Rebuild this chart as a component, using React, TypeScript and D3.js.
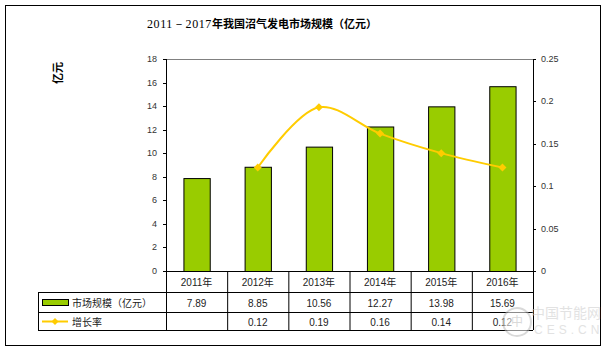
import React from "react";
import * as d3 from "d3";

const categories = ["2011年", "2012年", "2013年", "2014年", "2015年", "2016年"];
const marketSize = [7.89, 8.85, 10.56, 12.27, 13.98, 15.69];
const growthRate: (number | null)[] = [null, 0.122, 0.193, 0.162, 0.139, 0.122];
const growthLabels = ["", "0.12", "0.19", "0.16", "0.14", "0.12"];
const leftTicks = [0, 2, 4, 6, 8, 10, 12, 14, 16, 18];
const rightTicks = [0, 0.05, 0.1, 0.15, 0.2, 0.25];

const W = 608;
const H = 351;
const plot = { left: 166, right: 533, top: 59, bottom: 271 };
const table = { left: 38, row0: 271, row1: 292, row2: 312, row3: 330 };
const font = "Arial, 'Liberation Sans', 'Noto Sans CJK SC', sans-serif";

export default function App() {
  const x = d3
    .scaleBand<string>()
    .domain(categories)
    .range([plot.left, plot.right])
    .paddingInner(0.57)
    .paddingOuter(0.285);
  const band = d3.scaleBand<string>().domain(categories).range([plot.left, plot.right]);
  const yL = d3.scaleLinear().domain([0, 18]).range([plot.bottom, plot.top]);
  const yR = d3.scaleLinear().domain([0, 0.25]).range([plot.bottom, plot.top]);

  const pts = categories
    .map((c, i) => ({ c, v: growthRate[i] }))
    .filter((d) => d.v !== null) as { c: string; v: number }[];
  const cx = (c: string) => (band(c) as number) + band.bandwidth() / 2;
  const line = d3
    .line<{ c: string; v: number }>()
    .x((d) => cx(d.c))
    .y((d) => yR(d.v))
    .curve(d3.curveCatmullRom.alpha(0.5));

  const yellow = "#FFCC00";
  const green = "#99CC00";
  const diamond = (px: number, py: number, r = 4) =>
    `M${px},${py - r}L${px + r},${py}L${px},${py + r}L${px - r},${py}Z`;

  return (
    <svg width={W} height={H} style={{ position: "absolute", left: 0, top: 0, background: "#fff" }}>
      <rect x={5.5} y={5.5} width={595} height={340} fill="#fff" stroke="#000" />

      <text x={147} y={28} fill="#000">
        <tspan fontFamily="'Liberation Serif', 'DejaVu Serif', serif" fontSize={12} letterSpacing={0.6}>
          2011－2017
        </tspan>
        <tspan fontFamily="'Noto Sans CJK SC', sans-serif" fontWeight="bold" fontSize={11}>
          年我国沼气发电市场规模（亿元）
        </tspan>
      </text>

      <text
        transform="translate(57,73) rotate(-90)"
        textAnchor="middle"
        fontFamily="'Noto Sans CJK SC', sans-serif"
        fontWeight="bold"
        fontSize={11}
        dominantBaseline="central"
      >
        亿元
      </text>

      {/* plot frame */}
      <line x1={plot.left} x2={plot.right} y1={plot.top + 0.5} y2={plot.top + 0.5} stroke="#808080" />

      {/* bars */}
      {categories.map((c, i) => (
        <rect
          key={c}
          x={(x(c) as number) + 0.5}
          y={yL(marketSize[i]) + 0.5}
          width={x.bandwidth()}
          height={plot.bottom - yL(marketSize[i])}
          fill={green}
          stroke="#000"
        />
      ))}

      {/* axes */}
      <line x1={plot.left + 0.5} x2={plot.left + 0.5} y1={plot.top} y2={plot.bottom} stroke="#000" />
      <line x1={plot.right + 0.5} x2={plot.right + 0.5} y1={plot.top} y2={plot.bottom} stroke="#000" />
      {leftTicks.map((t) => (
        <g key={"l" + t}>
          <line x1={plot.left - 3} x2={plot.left} y1={Math.round(yL(t)) + 0.5} y2={Math.round(yL(t)) + 0.5} stroke="#000" />
          <text x={157} y={yL(t)} textAnchor="end" dominantBaseline="central" fontFamily={font} fontSize={9} fill="#333">
            {t}
          </text>
        </g>
      ))}
      {rightTicks.map((t) => (
        <g key={"r" + t}>
          <line x1={plot.right} x2={plot.right + 3} y1={Math.round(yR(t)) + 0.5} y2={Math.round(yR(t)) + 0.5} stroke="#000" />
          <text x={541} y={yR(t)} textAnchor="start" dominantBaseline="central" fontFamily={font} fontSize={9} fill="#333">
            {t}
          </text>
        </g>
      ))}

      {/* growth line */}
      <path d={line(pts) || ""} fill="none" stroke={yellow} strokeWidth={2} />
      {pts.map((d) => (
        <path key={d.c} d={diamond(cx(d.c), yR(d.v))} fill={yellow} />
      ))}

      {/* data table */}
      <g stroke="#000" fill="none">
        <line x1={plot.left} x2={plot.right} y1={table.row0 + 0.5} y2={table.row0 + 0.5} />
        <line x1={table.left} x2={plot.right} y1={table.row1 + 0.5} y2={table.row1 + 0.5} />
        <line x1={table.left} x2={plot.right} y1={table.row2 + 0.5} y2={table.row2 + 0.5} />
        <line x1={table.left} x2={plot.right} y1={table.row3 + 0.5} y2={table.row3 + 0.5} />
        <line x1={table.left + 0.5} x2={table.left + 0.5} y1={table.row1} y2={table.row3} />
        {categories.map((c) => (
          <line key={c} x1={(band(c) as number) + 0.5} x2={(band(c) as number) + 0.5} y1={table.row0} y2={table.row3} />
        ))}
        <line x1={plot.right + 0.5} x2={plot.right + 0.5} y1={table.row0} y2={table.row3} />
      </g>
      {categories.map((c, i) => (
        <g key={"t" + c} fontFamily={font} fontSize={10} fill="#222" textAnchor="middle">
          <text x={cx(c)} y={(table.row0 + table.row1) / 2 + 1} dominantBaseline="central">{c}</text>
          <text x={cx(c)} y={(table.row1 + table.row2) / 2 + 1} dominantBaseline="central">{marketSize[i].toFixed(2)}</text>
          <text x={cx(c)} y={(table.row2 + table.row3) / 2 + 1} dominantBaseline="central">{growthLabels[i]}</text>
        </g>
      ))}
      <rect x={42.5} y={299.5} width={26} height={6} fill={green} stroke="#000" />
      <text x={72} y={(table.row1 + table.row2) / 2 + 1} dominantBaseline="central" fontFamily={font} fontSize={10} fill="#222">
        市场规模（亿元）
      </text>
      <line x1={42} x2={68} y1={321.5} y2={321.5} stroke={yellow} strokeWidth={2} />
      <path d={diamond(55, 321.5, 3.5)} fill={yellow} />
      <text x={72} y={(table.row2 + table.row3) / 2 + 1} dominantBaseline="central" fontFamily={font} fontSize={10} fill="#222">
        增长率
      </text>

      {/* watermark */}
      <g opacity={0.55}>
        <circle cx={517} cy={322} r={14} fill="#fff" stroke="#bbb" strokeWidth={2} />
        <text x={517} y={326} textAnchor="middle" fontFamily={font} fontSize={12} fill="#bbb">中</text>
        <text x={531} y={318} fontFamily={font} fontSize={14} fill="#ccc">中国节能网</text>
        <text x={534} y={334} fontFamily={font} fontSize={12} fill="#ccc" letterSpacing={4}>CES.CN</text>
      </g>
    </svg>
  );
}
